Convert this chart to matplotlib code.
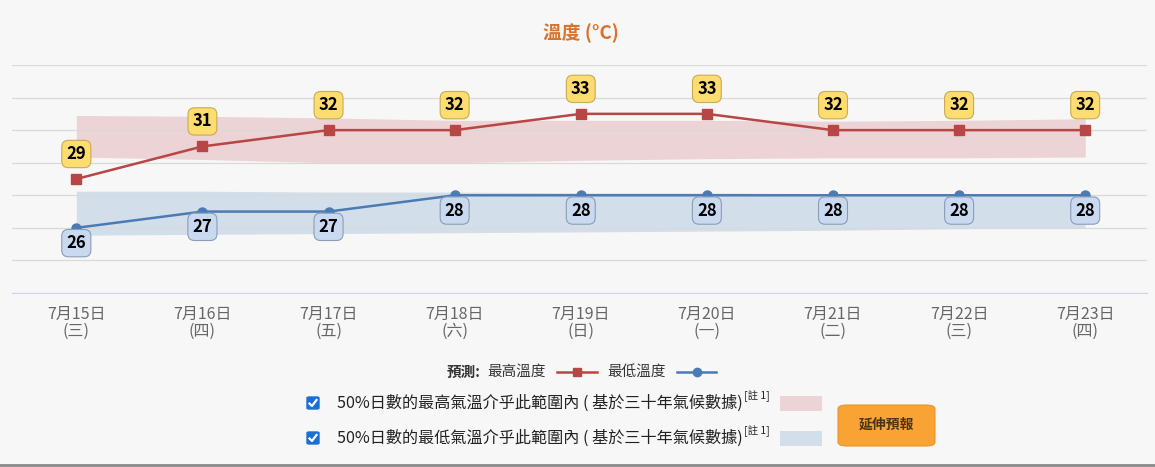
import numpy as np
import matplotlib
matplotlib.use("Agg")
import matplotlib.pyplot as plt
from matplotlib.patches import FancyBboxPatch, Rectangle
from matplotlib.lines import Line2D

plt.rcParams['font.family'] = ['Noto Sans CJK TC', 'DejaVu Sans']

# data
dates = ['7月15日', '7月16日', '7月17日', '7月18日', '7月19日', '7月20日', '7月21日', '7月22日', '7月23日']
weekdays = ['三', '四', '五', '六', '日', '一', '二', '三', '四']
max_temp = [29, 31, 32, 32, 33, 33, 32, 32, 32]
min_temp = [26, 27, 27, 28, 28, 28, 28, 28, 28]
# 50% climate range bands
max_band_hi = [32.9, 32.85, 32.75, 32.6, 32.6, 32.6, 32.55, 32.6, 32.7]
max_band_lo = [30.35, 30.2, 30.0, 30.0, 30.15, 30.25, 30.3, 30.3, 30.35]
min_band_hi = [28.25, 28.25, 28.2, 28.2, 28.15, 28.15, 28.1, 28.1, 28.1]
min_band_lo = [25.55, 25.6, 25.65, 25.7, 25.75, 25.8, 25.85, 25.95, 26.0]

W, H = 1155, 467
BG = '#f7f7f7'
RED = '#b84644'
BLUE = '#4b7bb4'
RED_BAND = '#ecd3d5'
BLUE_BAND = '#d3deeb'


def px(x, y):
    return x / W, 1 - y / H


fig = plt.figure(figsize=(W / 100, H / 100), dpi=100, facecolor=BG)
ax = fig.add_axes([12 / W, 1 - 293 / H, (1147 - 12) / W, (293 - 65) / H])
ax.set_facecolor(BG)

x = np.arange(len(dates))
ax.fill_between(x, max_band_lo, max_band_hi, color=RED_BAND, lw=0, zorder=1)
ax.fill_between(x, min_band_lo, min_band_hi, color=BLUE_BAND, lw=0, zorder=1)
ax.plot(x, max_temp, color=RED, lw=1.8, marker='s', ms=6.5, zorder=3)
ax.plot(x, min_temp, color=BLUE, lw=1.8, marker='o', ms=6.5, zorder=3)

for i, v in enumerate(max_temp):
    ax.annotate(str(v), (i, v), xytext=(0, 18), textcoords='offset points',
                ha='center', va='center', fontsize=12, fontweight='bold',
                bbox=dict(boxstyle='round,pad=0.28,rounding_size=0.4', fc='#fddc70', ec='#c9ab55', lw=0.8),
                zorder=5)
for i, v in enumerate(min_temp):
    ax.annotate(str(v), (i, v), xytext=(0, -11), textcoords='offset points',
                ha='center', va='center', fontsize=12, fontweight='bold',
                bbox=dict(boxstyle='round,pad=0.28,rounding_size=0.4', fc='#c9daf0', ec='#8c9db3', lw=0.8),
                zorder=5)

ax.set_xlim(-0.51, 8.49)
ax.set_ylim(22, 36)
ax.set_yticks(np.arange(22, 37, 2))
ax.set_yticklabels([])
ax.tick_params(axis='y', length=0)
ax.grid(axis='y', color='#d9d9d9', lw=0.9, zorder=0)
ax.set_xticks(x)
ax.set_xticklabels([f'{d}\n({w})' for d, w in zip(dates, weekdays)],
                   fontsize=11.5, color='#666666', linespacing=1.0)
ax.tick_params(axis='x', length=0, pad=9)
for s in ['top', 'left', 'right']:
    ax.spines[s].set_visible(False)
ax.spines['bottom'].set_color('#ccd6eb')

# title
fig.text(*px(581, 33), '溫度 (°C)', ha='center', va='center', fontsize=13.5,
         fontweight='bold', color='#d9732a')

# forecast legend
fig.text(*px(447, 372), '預測:', ha='left', va='center', fontsize=10.5, fontweight='bold', color='#333333')
fig.text(*px(487, 372), '最高溫度', ha='left', va='center', fontsize=10.5, color='#333333')
fig.add_artist(Line2D([557 / W, 597 / W], [1 - 372 / H] * 2, color=RED, lw=1.8, transform=fig.transFigure))
fig.add_artist(Line2D([577 / W], [1 - 372 / H], color=RED, marker='s', ms=6, transform=fig.transFigure))
fig.text(*px(607, 372), '最低溫度', ha='left', va='center', fontsize=10.5, color='#333333')
fig.add_artist(Line2D([677 / W, 716 / W], [1 - 372 / H] * 2, color=BLUE, lw=1.8, transform=fig.transFigure))
fig.add_artist(Line2D([697 / W], [1 - 372 / H], color=BLUE, marker='o', ms=6, transform=fig.transFigure))

# climate band rows
rows = [(403, '50%日數的最高氣溫介乎此範圍內 ( 基於三十年氣候數據)', RED_BAND),
        (438, '50%日數的最低氣溫介乎此範圍內 ( 基於三十年氣候數據)', BLUE_BAND)]
renderer = fig.canvas.get_renderer()
for yy, label, col in rows:
    cx, cy = px(307, yy - 6)
    fig.add_artist(FancyBboxPatch((cx, cy - 12 / H), 12 / W, 12 / H,
                                  boxstyle='round,pad=0,rounding_size=0.002',
                                  fc='#1a6fd6', ec='#1a6fd6', transform=fig.transFigure))
    fig.add_artist(Line2D([309.5 / W, 312 / W, 316.5 / W],
                          [1 - (yy + 0.5) / H, 1 - (yy + 3) / H, 1 - (yy - 3) / H],
                          color='white', lw=1.6, transform=fig.transFigure))
    t = fig.text(*px(337, yy), label, ha='left', va='center', fontsize=11.6, color='#222222')
    x_end = t.get_window_extent(renderer).x1
    fig.text(x_end / W + 1 / W, 1 - (yy - 7) / H, '[註 1]', ha='left', va='center',
             fontsize=7.5, color='#222222')
    sx, sy = px(780, yy + 8)
    fig.add_artist(Rectangle((sx, sy), 42 / W, 15 / H, fc=col, ec='none', transform=fig.transFigure))

# extended forecast button
bx, by = px(838, 446)
fig.add_artist(FancyBboxPatch((bx, by), 97 / W, 41 / H,
                              boxstyle='round,pad=0,rounding_size=0.008',
                              fc='#f9a334', ec='#e8962c', lw=0.8, transform=fig.transFigure))
fig.text(*px(886.5, 425), '延伸預報', ha='center', va='center', fontsize=10,
         fontweight='bold', color='#4a3414')

# frame bottom line
fig.add_artist(Line2D([0, 1], [1 - 465 / H] * 2, color='#888888', lw=2, transform=fig.transFigure))

fig.savefig('out.png', dpi=100, facecolor=BG)
